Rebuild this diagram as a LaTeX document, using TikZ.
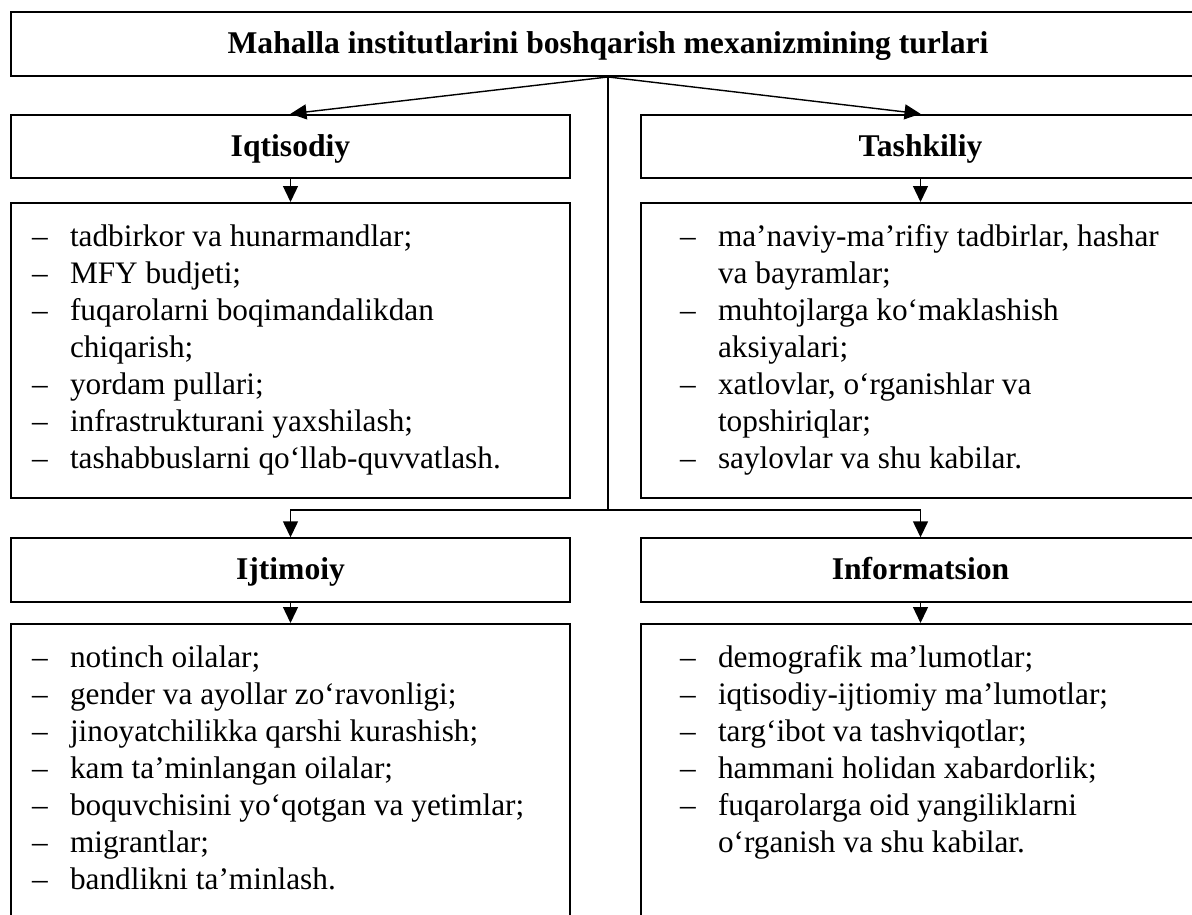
\documentclass[tikz,border=0pt]{standalone}
\usepackage{fontspec}
\setmainfont{Liberation Serif}
\usepackage{tikz}
\usetikzlibrary{arrows.meta}
\newcommand{\punkt}[2]{%
  \begin{minipage}[t][5.18cm][t]{11.18cm}%
  \begin{tabular}[t]{@{\hspace{#1}}p{0.76cm}@{}l@{}}#2\end{tabular}%
  \end{minipage}}

\begin{document}
\begin{tikzpicture}[x=0.02cm, y=-0.02cm,
    font=\fontsize{17.8}{21}\selectfont,
    head/.style={draw, line width=1.1pt, minimum width=11.18cm, minimum height=1.27cm,
      text height=14pt, text depth=3pt,
      font=\fontsize{18}{21}\selectfont\bfseries},
    lst/.style={draw, line width=1.1pt, inner xsep=0pt, inner ysep=0.36cm, anchor=north},
    arr/.style={-{Triangle[length=3.2mm,width=3mm]}, line width=0.8pt}]
    \clip (0,0) rectangle (1192,915);
    \fill[white] (0,0) rectangle (1192,915);
    \node[head, minimum width=23.88cm, minimum height=1.28cm] (title) at (608,44) {Mahalla institutlarini boshqarish mexanizmining turlari};
    \node[head] (econ) at (290.5,146.5) {Iqtisodiy};
    \node[head] (org) at (920.5,146.5) {Tashkiliy};
    \node[lst] (econlist) at (290.5,202) {\punkt{0.42cm}{%
      -- & tadbirkor va hunarmandlar;\\
      -- & MFY budjeti;\\
      -- & fuqarolarni boqimandalikdan\\
         & chiqarish;\\
      -- & yordam pullari;\\
      -- & infrastrukturani yaxshilash;\\
      -- & tashabbuslarni qo‘llab-quvvatlash.}};
    \node[lst] (orglist) at (920.5,202) {\punkt{0.78cm}{%
      -- & ma’naviy-ma’rifiy tadbirlar, hashar\\
         & va bayramlar;\\
      -- & muhtojlarga ko‘maklashish\\
         & aksiyalari;\\
      -- & xatlovlar, o‘rganishlar va\\
         & topshiriqlar;\\
      -- & saylovlar va shu kabilar.}};
    \node[head] (social) at (290.5,570) {Ijtimoiy};
    \node[head] (info) at (920.5,570) {Informatsion};
    \node[lst] (sociallist) at (290.5,623) {\punkt{0.42cm}{%
      -- & notinch oilalar;\\
      -- & gender va ayollar zo‘ravonligi;\\
      -- & jinoyatchilikka qarshi kurashish;\\
      -- & kam ta’minlangan oilalar;\\
      -- & boquvchisini yo‘qotgan va yetimlar;\\
      -- & migrantlar;\\
      -- & bandlikni ta’minlash.}};
    \node[lst] (infolist) at (920.5,623) {\punkt{0.78cm}{%
      -- & demografik ma’lumotlar;\\
      -- & iqtisodiy-ijtiomiy ma’lumotlar;\\
      -- & targ‘ibot va tashviqotlar;\\
      -- & hammani holidan xabardorlik;\\
      -- & fuqarolarga oid yangiliklarni\\
         & o‘rganish va shu kabilar.}};
    \coordinate (split) at (608,510);
    \draw[arr] (title.south) -- (econ.north);
    \draw[arr] (title.south) -- (org.north);
    \draw[line width=0.8pt] (title.south) -- (split);
    \draw[arr] (split) -| (social.north);
    \draw[arr] (split) -| (info.north);
    \draw[arr] (econ) -- (econlist);
    \draw[arr] (org) -- (orglist);
    \draw[arr] (social) -- (sociallist);
    \draw[arr] (info) -- (infolist);
\end{tikzpicture}
\end{document}
